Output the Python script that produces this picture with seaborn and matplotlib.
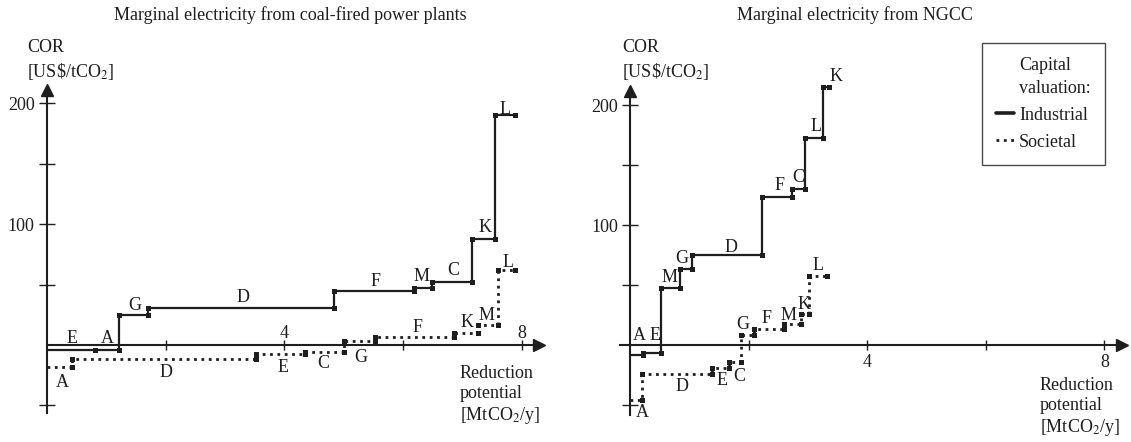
import numpy as np
import pandas as pd
import matplotlib
matplotlib.use("Agg")
import matplotlib.pyplot as plt
from matplotlib.lines import Line2D
import seaborn as sns

# ---------------- data ----------------
# Coal-fired (left panel)
coal_ind_labels = ['E', 'A', 'G', 'D', 'F', 'M', 'C', 'K', 'L']
coal_ind_end = [0.81, 1.22, 1.70, 4.84, 6.18, 6.49, 7.16, 7.55, 7.88]
coal_ind_cor = [-4.5, -4.0, 25.0, 31.0, 45.0, 47.5, 52.5, 88.0, 190.0]

coal_soc_labels = ['A', 'D', 'E', 'C', 'G', 'F', 'K', 'M', 'L']
coal_soc_end = [0.42, 3.52, 4.35, 5.00, 5.52, 6.86, 7.26, 7.59, 7.88]
coal_soc_cor = [-18.0, -11.8, -7.6, -5.6, 3.0, 6.4, 10.1, 16.2, 62.4]

# NGCC (right panel)
ngcc_ind_labels = ['A', 'E', 'M', 'G', 'D', 'F', 'C', 'L', 'K']
ngcc_ind_end = [0.22, 0.53, 0.84, 1.04, 2.22, 2.73, 2.95, 3.26, 3.35]
ngcc_ind_cor = [-8.3, -6.7, 47.5, 63.3, 75.0, 123.6, 130.0, 172.8, 215.0]

ngcc_soc_labels = ['A', 'D', 'E', 'C', 'G', 'F', 'M', 'K', 'L']
ngcc_soc_end = [0.21, 1.38, 1.67, 1.88, 2.09, 2.59, 2.88, 3.02, 3.33]
ngcc_soc_cor = [-45.6, -24.2, -19.2, -13.9, 8.3, 13.3, 17.5, 25.8, 57.8]

y_ticks = [-50, 50, 100, 150, 200]
y_ticklabels = ['', '', '100', '', '200']
x_ticks = [2, 4, 6, 8]
x_ticklabels = ['', '4', '', '8']

titles = ['Marginal electricity from coal-fired power plants',
          'Marginal electricity from NGCC']

# ---------------- label placement (layout) ----------------
coal_ind_lab_xy = [(0.42, 5), (1.02, 5), (1.49, 32.5), (3.31, 39), (5.53, 52.7),
                   (6.31, 57), (6.84, 62), (7.38, 97), (7.71, 194.5)]
coal_soc_lab_xy = [(0.26, -31), (2.0, -22.6), (3.97, -18.5), (4.66, -15.7), (5.28, -10.2),
                   (6.25, 14.6), (7.07, 18.8), (7.40, 24.8), (7.76, 68.4)]
ngcc_ind_lab_xy = [(0.16, 7.8), (0.43, 7.8), (0.66, 56), (0.87, 72), (1.70, 81),
                   (2.53, 133), (2.83, 140), (3.13, 182), (3.47, 224)]
ngcc_soc_lab_xy = [(0.21, -56), (0.87, -35), (1.55, -30), (1.85, -26), (1.90, 16.7),
                   (2.30, 21.7), (2.68, 25.0), (2.93, 33.5), (3.17, 66)]

# ---------------- style ----------------
sns.set_style("white")
plt.rcParams['font.family'] = ['Liberation Serif', 'DejaVu Serif']
plt.rcParams['mathtext.fontset'] = 'stix'
FS = 13
INK = '#1e1e1e'

W, H = 1131, 442
fig = plt.figure(figsize=(W / 100, H / 100), dpi=100)

ax1 = fig.add_axes([0.0413, 0.0663, 0.4349, 0.730])
ax2 = fig.add_axes([0.5481, 0.0620, 0.4441, 0.733])


def vertices(ends, cors):
    ends = np.asarray(ends, float)
    cors = np.asarray(cors, float)
    starts = np.concatenate([[0.0], ends[:-1]])
    xs = np.column_stack([starts, ends]).ravel()
    ys = np.repeat(cors, 2)
    return pd.DataFrame({'x': xs, 'y': ys})


def draw_series(ax, ends, cors, labels, lab_xy, ls, lw):
    df = vertices(ends, cors)
    sns.lineplot(data=df, x='x', y='y', sort=False, estimator=None, ax=ax,
                 color=INK, linewidth=lw, linestyle=ls, marker='s', markersize=3.6,
                 markeredgewidth=0, markevery=list(range(1, len(df))), clip_on=False)
    for lab, (lx, ly) in zip(labels, lab_xy):
        ax.text(lx, ly, lab, ha='center', va='center', fontsize=FS, color=INK)


def style_axes(ax, xlim, ylim, xlab_pad):
    ax.set_xlim(*xlim)
    ax.set_ylim(*ylim)
    ax.set_xlabel('')
    ax.set_ylabel('')
    for s in ['top', 'right']:
        ax.spines[s].set_visible(False)
    for s in ['left', 'bottom']:
        ax.spines[s].set_position(('data', 0))
        ax.spines[s].set_linewidth(1.5)
        ax.spines[s].set_color(INK)
        ax.spines[s].set_visible(True)
    ax.set_yticks(y_ticks)
    ax.set_yticklabels(y_ticklabels)
    ax.set_xticks(x_ticks)
    ax.set_xticklabels(x_ticklabels)
    ax.tick_params(axis='y', direction='inout', length=11.5, width=1.0, pad=3,
                   labelsize=FS, colors=INK, left=True)
    ax.tick_params(axis='x', direction='inout', length=6.5, width=1.0, pad=xlab_pad,
                   labelsize=FS, colors=INK, bottom=True)
    ax.patch.set_visible(False)
    ax.grid(False)
    ax.plot(1, 0, '>', color=INK, ms=9, transform=ax.get_yaxis_transform(), clip_on=False)
    ax.plot(0, 1, '^', color=INK, ms=9, transform=ax.get_xaxis_transform(), clip_on=False)


draw_series(ax1, coal_ind_end, coal_ind_cor, coal_ind_labels, coal_ind_lab_xy, '-', 1.6)
draw_series(ax1, coal_soc_end, coal_soc_cor, coal_soc_labels, coal_soc_lab_xy, ':', 2.0)
draw_series(ax2, ngcc_ind_end, ngcc_ind_cor, ngcc_ind_labels, ngcc_ind_lab_xy, '-', 1.6)
draw_series(ax2, ngcc_soc_end, ngcc_soc_cor, ngcc_soc_labels, ngcc_soc_lab_xy, ':', 2.0)

style_axes(ax1, (0, 8.28), (-56, 211), -18)
style_axes(ax2, (-0.17, 8.3), (-58, 212), 3.2)


def fx(px):
    return px / W


def fy(py):
    return 1 - py / H


# titles
fig.text(fx(290), fy(15), titles[0], ha='center', va='center', fontsize=FS, color=INK)
fig.text(fx(855), fy(15), titles[1], ha='center', va='center', fontsize=FS, color=INK)

# y-axis labels
for x0 in (27, 622):
    fig.text(fx(x0), fy(48), 'COR', ha='left', va='center', fontsize=FS, color=INK)
    fig.text(fx(x0), fy(72), r'[US\$/tCO$_2$]', ha='left', va='center', fontsize=FS, color=INK)

# x-axis labels
for x0, y0 in ((460, 373), (1040, 385)):
    fig.text(fx(x0), fy(y0), 'Reduction', ha='left', va='center', fontsize=FS, color=INK)
    fig.text(fx(x0), fy(y0 + 21), 'potential', ha='left', va='center', fontsize=FS, color=INK)
    fig.text(fx(x0), fy(y0 + 42), r'[MtCO$_2$/y]', ha='left', va='center', fontsize=FS, color=INK)

# legend
handles = [Line2D([], [], color='none'),
           Line2D([], [], color=INK, lw=2.6, ls='-'),
           Line2D([], [], color=INK, lw=2.0, ls=':')]
labels = ['Capital\nvaluation:', 'Industrial', 'Societal']
leg = ax2.legend(handles, labels, loc='upper left',
                 bbox_to_anchor=(fx(982), fy(43)), bbox_transform=fig.transFigure,
                 borderaxespad=0, frameon=True, fancybox=False, shadow=False,
                 fontsize=FS, handlelength=1.0, handletextpad=0.25, labelspacing=0.55,
                 borderpad=0.8, labelcolor=INK)
leg.get_texts()[0].set_multialignment('left')
leg.get_texts()[0].set_linespacing(1.4)
leg.get_frame().set_edgecolor(INK)
leg.get_frame().set_linewidth(1.0)
leg.get_frame().set_facecolor('white')

fig.savefig('out.png', dpi=100)
